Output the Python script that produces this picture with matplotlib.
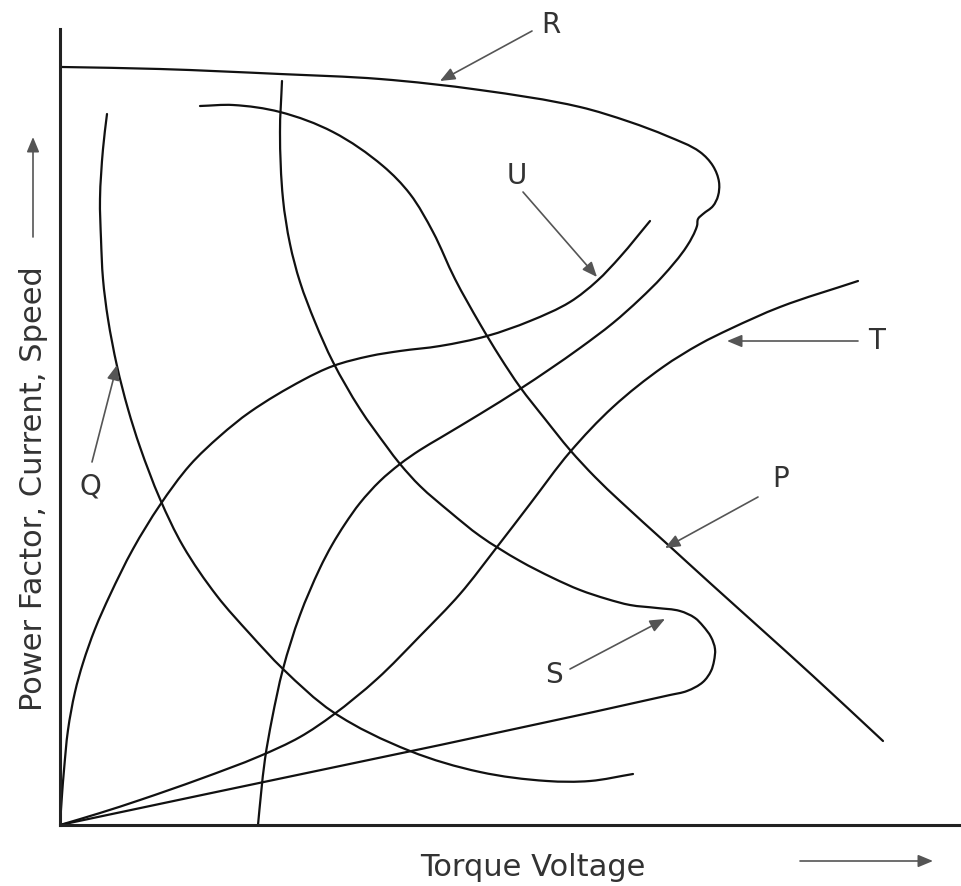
import numpy as np
import matplotlib
matplotlib.use("Agg")
import matplotlib.pyplot as plt
from matplotlib.path import Path
from matplotlib.patches import PathPatch

# curve values (torque axis 0..90, other axis 0..80)
r_x = [0.2, 10.0, 22.0, 32.0, 42.0, 52.0, 57.0, 60.7, 64.0, 65.3, 65.9, 65.8, 65.3, 64.3,
       63.8, 63.7, 62.7, 60.2, 58.0, 55.3, 52.0, 49.0, 46.0, 42.0, 38.0, 36.0, 34.0, 32.0,
       30.0, 28.5, 27.2, 26.0, 24.0, 22.3, 21.2, 20.5, 20.1, 19.8]
r_y = [75.8, 75.6, 75.1, 74.6, 73.5, 71.8, 70.3, 68.9, 67.3, 65.9, 64.3, 62.9, 61.9, 61.1,
       60.6, 59.9, 57.9, 54.8, 52.6, 50.2, 47.7, 45.6, 43.6, 41.1, 38.7, 37.5, 36.1, 34.4,
       32.2, 30.1, 28.0, 25.7, 21.0, 15.6, 10.6, 6.6, 3.1, 0.0]

q_x = [4.7, 4.3, 4.0, 4.1, 4.3, 4.8, 5.7, 6.8, 8.0, 10.0, 12.3, 15.7, 19.0, 22.3, 27.3,
       35.0, 42.0, 48.7, 53.0, 57.3]
q_y = [71.1, 67.6, 62.6, 58.6, 54.6, 50.6, 45.9, 41.6, 37.8, 32.6, 27.9, 22.9, 19.1, 15.6,
       11.3, 7.4, 5.3, 4.4, 4.4, 5.1]

s_x = [22.2, 22.0, 22.3, 23.0, 24.0, 25.5, 27.3, 30.0, 32.7, 34.0, 36.0, 39.0, 42.0, 46.0,
       49.3, 52.0, 54.7, 57.0, 59.7, 62.0, 63.5, 64.3, 65.1, 65.5, 65.4, 65.1, 64.3, 62.7,
       61.0, 0.0]
s_y = [74.4, 69.3, 62.6, 58.1, 54.3, 50.3, 46.3, 41.6, 37.8, 36.1, 33.9, 31.3, 28.9, 26.4,
       24.7, 23.5, 22.6, 22.0, 21.7, 21.4, 20.7, 19.9, 18.8, 17.6, 16.4, 15.4, 14.3, 13.4,
       13.0, 0.0]

p_x = [14.0, 17.3, 22.0, 27.3, 32.3, 35.0, 37.3, 39.5, 42.0, 44.0, 46.0, 48.5, 51.0, 53.5,
       56.0, 60.5, 65.0, 70.0, 75.3, 82.3]
p_y = [71.9, 72.0, 71.3, 69.3, 65.9, 63.1, 59.3, 54.6, 50.1, 46.8, 43.8, 40.6, 37.5, 34.8,
       32.4, 28.3, 24.2, 19.7, 14.9, 8.4]

u_x = [0.0, 0.2, 0.4, 0.8, 1.5, 2.3, 3.5, 5.0, 7.3, 10.0, 13.0, 16.0, 19.0, 24.3, 27.3,
       31.0, 34.0, 38.0, 42.7, 47.0, 51.0, 53.7, 56.0, 59.0]
u_y = [0.0, 3.0, 5.5, 9.5, 13.3, 16.2, 19.6, 23.0, 27.6, 32.0, 36.0, 38.9, 41.3, 44.5, 45.9,
       46.9, 47.4, 47.9, 48.9, 50.4, 52.3, 54.4, 56.8, 60.4]

t_x = [0.0, 4.0, 8.0, 14.0, 20.0, 24.0, 27.3, 31.7, 36.0, 40.0, 43.7, 47.0, 51.0, 55.3,
       60.3, 64.0, 67.0, 72.0, 79.8]
t_y = [0.0, 1.2, 2.5, 4.6, 6.9, 8.8, 11.0, 14.6, 18.9, 23.1, 27.8, 32.1, 37.3, 41.8,
       45.8, 48.1, 49.6, 51.8, 54.4]

# labels: name, text position, arrow start, arrow tip
labels = ["R", "U", "T", "P", "S", "Q"]
label_pos = [(49.1, 80.1), (45.7, 65.0), (81.7, 48.5), (72.1, 34.7), (49.4, 15.1), (3.0, 33.9)]
arrow_from = [(47.2, 79.4), (46.3, 63.3), (79.8, 48.4), (69.8, 32.8), (51.0, 15.6), (3.2, 36.3)]
arrow_to = [(38.0, 74.4), (53.7, 54.8), (66.7, 48.4), (60.5, 27.7), (60.5, 20.6), (5.7, 46.0)]


def smooth_path(xs, ys):
    # cubic bezier pieces through the read points, handles along the local direction
    p = np.column_stack([xs, ys]).astype(float)
    d = np.diff(p, axis=0)
    seg = np.hypot(d[:, 0], d[:, 1])
    u = d / seg[:, None]
    tang = np.vstack([u[0], u[:-1] + u[1:], u[-1]])
    tang /= np.hypot(tang[:, 0], tang[:, 1])[:, None]
    verts = [p[0]]
    codes = [Path.MOVETO]
    for i in range(len(p) - 1):
        h = seg[i] / 3
        verts += [p[i] + tang[i] * h, p[i + 1] - tang[i + 1] * h, p[i + 1]]
        codes += [Path.CURVE4] * 3
    return Path(verts, codes)


fig = plt.figure(figsize=(9.61, 8.87), dpi=100)
ax = fig.add_axes([60 / 961, 61 / 887, 901 / 961, 796 / 887])
ax.set_xlim(0, 90.1)
ax.set_ylim(0, 79.6)
for side in ["top", "right"]:
    ax.spines[side].set_visible(False)
for side in ["left", "bottom"]:
    ax.spines[side].set_linewidth(2.2)
    ax.spines[side].set_color("#222222")
ax.set_xticks([])
ax.set_yticks([])

curves = [(r_x, r_y), (q_x, q_y), (s_x, s_y), (p_x, p_y), (u_x, u_y), (t_x, t_y)]
for cx, cy in curves:
    ax.add_patch(PathPatch(smooth_path(cx, cy), fill=False, edgecolor="#111111", lw=1.6,
                           joinstyle="round", capstyle="round"))

txt = dict(color="#333333", family="DejaVu Sans")
arrow = dict(arrowstyle="-|>,head_length=0.6,head_width=0.25", color="#555555", lw=1.2,
             shrinkA=0, shrinkB=0, mutation_scale=15)

for name, pos, a0, a1 in zip(labels, label_pos, arrow_from, arrow_to):
    ax.text(pos[0], pos[1], name, ha="center", va="center", fontsize=20, clip_on=False, **txt)
    ax.annotate("", xy=a1, xytext=a0, arrowprops=arrow, annotation_clip=False)

# axis titles with their direction arrows
ax.text(-2.6, 33.7, "Power Factor, Current, Speed", rotation=90, ha="center", va="center",
        fontsize=22, clip_on=False, **txt)
ax.annotate("", xy=(-2.7, 68.8), xytext=(-2.7, 58.8), arrowprops=arrow, annotation_clip=False)
ax.text(47.3, -5.0, "Torque Voltage", ha="center", va="baseline", fontsize=22,
        clip_on=False, **txt)
ax.annotate("", xy=(87.3, -3.6), xytext=(74.0, -3.6), arrowprops=arrow, annotation_clip=False)

fig.savefig("out.png", dpi=100, facecolor="white")
